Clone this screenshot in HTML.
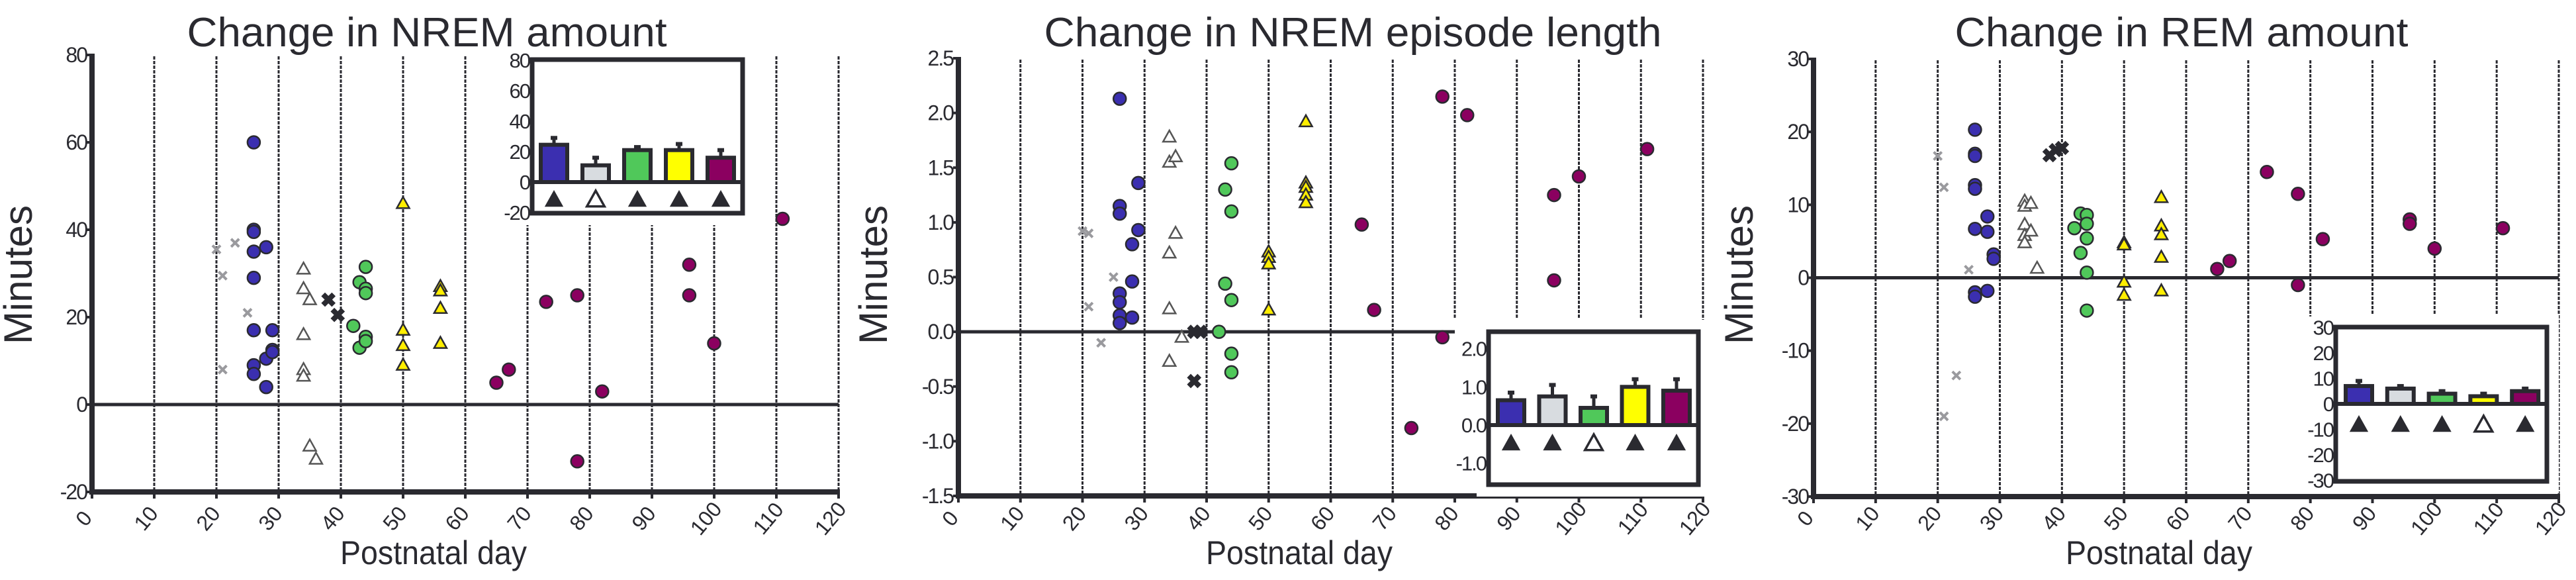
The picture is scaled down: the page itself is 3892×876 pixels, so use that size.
<!DOCTYPE html>
<html><head><meta charset="utf-8"><style>
html,body{margin:0;padding:0;background:#fff;}
svg{display:block;}
text{font-family:"Liberation Sans Narrow","Liberation Sans",sans-serif;fill:#2a2a30;}
</style></head><body>
<svg id="chart" width="3892" height="876" viewBox="0 0 3892 876" xmlns="http://www.w3.org/2000/svg"></svg>
<script>
// ---- data ----
const xTicks=[0,10,20,30,40,50,60,70,80,90,100,110,120];
const groupNames=['blue','gray-x','open-tri','black-x','green','yellow','purple'];
// Panel 1: NREM amount
const p1Blue=[[26,60],[26,40],[26,39.5],[26,35],[26,29],[26,17],[26,9],[26,7],[28,36],[28,10.5],[28,4],[29,17],[29,12.5],[29,12]];
const p1GrayX=[[20,35.5],[21,29.5],[23,37],[25,21],[21,8]];
const p1OpenTri=[[34,31],[34,26.5],[34,16],[34,8],[34,6.5],[35,24],[35,-9.5],[36,-12.5]];
const p1BlackX=[[38,24],[39.5,20.5]];
const p1Green=[[42,18],[43,28],[43,13],[44,31.5],[44,26.5],[44,25.5],[44,15.5],[44,14.5]];
const p1Yellow=[[50,46],[50,17],[50,13.5],[50,9],[56,27],[56,26],[56,22],[56,14]];
const p1Purple=[[65,5],[67,8],[73,23.5],[78,25],[78,-13],[82,3],[96,32],[96,25],[100,14],[111,42.5]];
const p1BarVals=[24.5,11,21,21,16];
const p1BarErr=[29,16,23,25,21];
const p1Open=[false,true,false,false,false];
// Panel 2: NREM episode length
const p2Blue=[[26,2.13],[26,1.15],[26,1.08],[26,0.35],[26,0.27],[26,0.15],[26,0.08],[28,0.8],[28,0.46],[28,0.13],[29,1.36],[29,0.93]];
const p2GrayX=[[20,0.92],[21,0.9],[25,0.5],[21,0.23],[23,-0.1]];
const p2OpenTri=[[34,1.78],[34,1.55],[34,0.72],[34,0.21],[34,-0.27],[35,1.6],[35,0.9],[36,-0.05]];
const p2BlackX=[[38,0],[39,0],[38,-0.45]];
const p2Green=[[42,0],[43,1.3],[43,0.44],[44,1.54],[44,1.1],[44,0.29],[44,-0.2],[44,-0.37]];
const p2Yellow=[[50,0.73],[50,0.68],[50,0.62],[50,0.2],[56,1.92],[56,1.36],[56,1.32],[56,1.25],[56,1.18]];
const p2Purple=[[65,0.98],[67,0.2],[73,-0.88],[78,2.15],[78,-0.05],[82,1.98],[96,1.25],[96,0.47],[100,1.42],[111,1.67]];
const p2BarVals=[0.65,0.75,0.45,1.0,0.9];
const p2BarErr=[0.85,1.05,0.75,1.2,1.2];
const p2Open=[false,false,true,false,false];
// Panel 3: REM amount
const p3Blue=[[26,20.3],[26,17],[26,16.7],[26,12.7],[26,12.2],[26,6.7],[26,-2],[26,-2.6],[28,8.4],[28,6.3],[28,-1.8],[29,3.2],[29,2.6]];
const p3GrayX=[[20,16.7],[21,12.4],[25,1.1],[23,-13.4],[21,-19]];
const p3OpenTri=[[34,10.5],[34,9.8],[34,7.3],[34,5.8],[34,4.8],[35,10.2],[35,6.4],[36,1.3]];
const p3BlackX=[[38,16.8],[39,17.5],[40,17.8]];
const p3Green=[[42,6.8],[43,8.8],[43,3.4],[44,8.6],[44,7.4],[44,5.4],[44,0.7],[44,-4.5]];
const p3Yellow=[[50,4.8],[50,4.5],[50,-0.6],[50,-2.4],[56,11],[56,7.1],[56,5.9],[56,2.8],[56,-1.8]];
const p3Purple=[[65,1.2],[67,2.3],[73,14.5],[78,11.5],[78,-1],[82,5.3],[96,8],[96,7.4],[100,4],[111,6.8]];
const p3BarVals=[7,6,4,3,5];
const p3BarErr=[9,7,5,4,6];
const p3Open=[false,false,false,true,false];

const DARK='#2a2a30';
const barColors=['#3b2fb0','#d8dce0','#50c85a','#ffff00','#8b0060'];
const NS='http://www.w3.org/2000/svg';
const svg=document.getElementById('chart');
function el(tag,attrs,parent){const e=document.createElementNS(NS,tag);for(const k in attrs)e.setAttribute(k,attrs[k]);(parent||svg).appendChild(e);return e;}

const panels=[
 {id:'nrem-amount',title:'Change in NREM amount',tcx:645,tlen:725,x0:139,x1:1267,yTop:83,yBot:743,ymax:80,ymin:-20,yticks:[80,60,40,20,0,-20],dec:0,zeroEnd:120,cutY:null,
  groups:[p1Blue,p1GrayX,p1OpenTri,p1BlackX,p1Green,p1Yellow,p1Purple],bars:p1BarVals,errs:p1BarErr,open:p1Open,
  inset:{x:804,y:90,w:318,h:232,zero:275,scale:2.3,ticks:[80,60,40,20,0,-20],dec:0,tri:302,cx0:837,dx:63},ylab:30,xlabc:655},
 {id:'nrem-episode-length',title:'Change in NREM episode length',tcx:2044,tlen:933,x0:1448,x1:2573,yTop:88,yBot:749,ymax:2.5,ymin:-1.5,yticks:[2.5,2,1.5,1,0.5,0,-0.5,-1,-1.5],dec:1,zeroEnd:80,cutY:480,
  groups:[p2Blue,p2GrayX,p2OpenTri,p2BlackX,p2Green,p2Yellow,p2Purple],bars:p2BarVals,errs:p2BarErr,open:p2Open,
  inset:{x:2249,y:501,w:317,h:231,zero:642,scale:57.7,ticks:[2,1,0,-1],dec:1,tri:670,cx0:2283,dx:62.5},ylab:1322,xlabc:1963},
 {id:'rem-amount',title:'Change in REM amount',tcx:3296,tlen:685,x0:2740,x1:3866,yTop:89,yBot:750,ymax:30,ymin:-30,yticks:[30,20,10,0,-10,-20,-30],dec:0,zeroEnd:120,cutY:478,
  groups:[p3Blue,p3GrayX,p3OpenTri,p3BlackX,p3Green,p3Yellow,p3Purple],bars:p3BarVals,errs:p3BarErr,open:p3Open,
  inset:{x:3529,y:494,w:319,h:233,zero:610,scale:3.85,ticks:[30,20,10,0,-10,-20,-30],dec:0,tri:642,cx0:3564,dx:62.8},ylab:2630,xlabc:3262}
];

function tri(g,cx,cy,s,fill,stroke,sw){
  return el('polygon',{points:`${cx},${cy-s} ${cx-s*0.95},${cy+s*0.7} ${cx+s*0.95},${cy+s*0.7}`,fill:fill,stroke:stroke,'stroke-width':sw},g);
}
function cross(g,cx,cy,s,color,w){
  return el('path',{d:`M${cx-s},${cy-s}L${cx+s},${cy+s}M${cx-s},${cy+s}L${cx+s},${cy-s}`,stroke:color,'stroke-width':w,fill:'none'},g);
}

panels.forEach(P=>{
  const g=el('g',{});
  
  
  const sx=v=>P.x0+(v-0)*(P.x1-P.x0)/120;
  const sy=v=>P.yTop+(P.ymax-v)*(P.yBot-P.yTop)/(P.ymax-P.ymin);
  const t=el('text',{x:P.tcx,y:70,'font-size':62,'text-anchor':'middle',textLength:P.tlen,lengthAdjust:'spacingAndGlyphs'},g);t.textContent=P.title;
  
  
  xTicks.forEach(v=>{ if(v===0)return;
    const yEnd=(P.cutY&&v>=80&&v<120)?P.cutY:sy(P.ymin);
    const l=el('line',{x1:sx(v),x2:sx(v),y1:sy(P.ymax)+2,y2:yEnd,stroke:DARK,'stroke-width':3,'stroke-dasharray':'5,2'},g);
    
    
  });
  const z=el('line',{x1:sx(0),x2:sx(P.zeroEnd),y1:sy(0),y2:sy(0),stroke:DARK,'stroke-width':5},g);
  
  
  const ya=el('line',{x1:sx(0),x2:sx(0),y1:sy(P.ymax)-2,y2:sy(P.ymin)+4,stroke:DARK,'stroke-width':8},g);
  
  
  const xa=el('line',{x1:sx(0)-4,x2:sx(120)+2,y1:sy(P.ymin),y2:sy(P.ymin),stroke:DARK,'stroke-width':8},g);
  
  
  P.yticks.forEach(v=>{
    el('line',{x1:sx(0)-8,x2:sx(0),y1:sy(v),y2:sy(v),stroke:DARK,'stroke-width':4},g);
    const tl=el('text',{x:sx(0)-8,y:sy(v)+11,'font-size':32,'text-anchor':'end','letter-spacing':-2},g);
    tl.textContent=P.dec?v.toFixed(1):String(v);
    
    
  });
  xTicks.forEach(v=>{
    el('line',{x1:sx(v),x2:sx(v),y1:sy(P.ymin),y2:sy(P.ymin)+10,stroke:DARK,'stroke-width':4},g);
    const tx=sx(v)-4, ty=790;
    const tl=el('text',{x:tx,y:ty,'font-size':32,'text-anchor':'middle',transform:`rotate(-50 ${tx} ${ty})`},g);
    tl.textContent=String(v);
    
    
  });
  const yl=el('text',{x:P.ylab+18,y:415,'font-size':60,'text-anchor':'middle',transform:`rotate(-90 ${P.ylab+18} 415)`},g);
  yl.textContent='Minutes';
  
  
  const xl=el('text',{x:P.xlabc,y:852,'font-size':50,'text-anchor':'middle',textLength:282,lengthAdjust:'spacingAndGlyphs'},g);
  xl.textContent='Postnatal day';
  
  
  P.groups.forEach((pts,gi)=>{
    pts.forEach(([dx,dy])=>{
      const cx=sx(dx),cy=sy(dy);let m;
      if(gi===0) m=el('circle',{cx:cx,cy:cy,r:9.5,fill:'#3b2fb0',stroke:DARK,'stroke-width':2.5},g);
      else if(gi===4) m=el('circle',{cx:cx,cy:cy,r:9.5,fill:'#50c85a',stroke:DARK,'stroke-width':2.5},g);
      else if(gi===6) m=el('circle',{cx:cx,cy:cy,r:9.5,fill:'#8b0060',stroke:DARK,'stroke-width':2.5},g);
      else if(gi===1) m=cross(g,cx,cy,6,'#9a9a9e',4);
      else if(gi===3) m=cross(g,cx,cy,8,DARK,8);
      else if(gi===2) m=tri(g,cx,cy,10,'#fff','#555',2.5);
      else m=tri(g,cx,cy,10,'#ffee00',DARK,2.5);
      
      
    });
  });
  const I=P.inset;
  const ig=el('g',{},g);
  
  
  el('rect',{x:I.x-18,y:I.y-18,width:I.w+36,height:I.h+36,fill:'#fff'},ig);
  const iy=v=>I.zero-v*I.scale;
  I.ticks.forEach(v=>{
    const tl=el('text',{x:I.x-4,y:iy(v)+11,'font-size':31,'text-anchor':'end','letter-spacing':-2},ig);
    tl.textContent=I.dec?v.toFixed(1):String(v);
    
    
  });
  P.bars.forEach((v,i)=>{
    const cx=I.cx0+i*I.dx, w=40;
    const e=iy(P.errs[i]);
    el('line',{x1:cx,x2:cx,y1:iy(v),y2:e,stroke:DARK,'stroke-width':5},ig);
    el('line',{x1:cx-5,x2:cx+5,y1:e,y2:e,stroke:DARK,'stroke-width':6},ig);
    const b=el('rect',{x:cx-w/2,y:iy(v),width:w,height:I.zero-iy(v),fill:barColors[i],stroke:DARK,'stroke-width':6},ig);
    
    
    const tr=P.open[i]?tri(ig,cx,I.tri,14,'#fff',DARK,3.5):tri(ig,cx,I.tri,14,DARK,DARK,1);
    
    
  });
  el('line',{x1:I.x,x2:I.x+I.w,y1:I.zero,y2:I.zero,stroke:DARK,'stroke-width':6},ig);
  el('rect',{x:I.x,y:I.y,width:I.w,height:I.h,fill:'none',stroke:DARK,'stroke-width':7},ig);
});
</script>
</body></html>
